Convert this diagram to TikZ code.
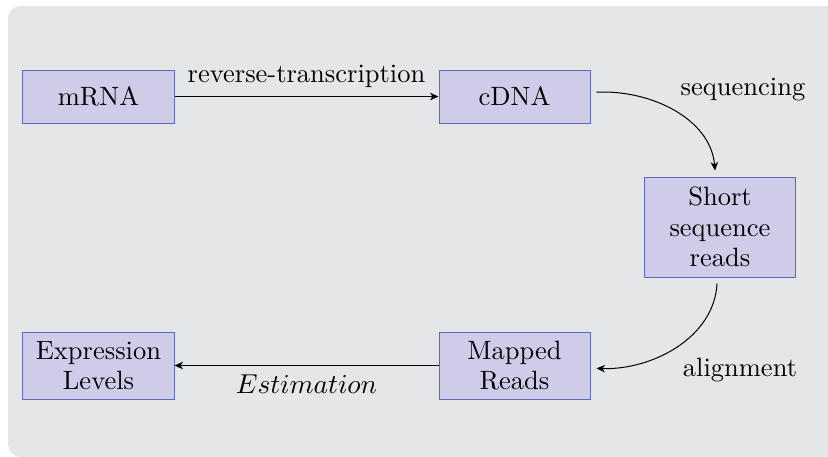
\documentclass[tikz,border=0pt]{standalone}
\usetikzlibrary{arrows.meta}
\definecolor{panelbg}{RGB}{229,230,232}
\definecolor{boxfill}{RGB}{207,204,234}
\definecolor{boxline}{RGB}{92,108,184}
\tikzset{
  box/.style={draw=boxline, fill=boxfill, minimum width=60.4pt, inner sep=0pt, align=center},
  flow/.style={-{Stealth[length=3.4pt,width=3pt,inset=1pt]}},
  gap/.style={shorten <=2.4pt, shorten >=2.4pt},
  steplabel/.style={anchor=base, inner sep=0pt}
}
\begin{document}
\begin{tikzpicture}[x=0.4pt, y=-0.4pt, font=\fontsize{10.6}{12.2}\selectfont]
  \useasboundingbox (0,0) rectangle (828,456);
  % panel
  \begin{scope}
    \clip (0,0) rectangle (828,456);
    \fill[panelbg, rounded corners=5pt] (8,6) rectangle (880,457);
  \end{scope}

  % stages
  \node[box, minimum height=21.2pt] (mrna)   at (98.5,96.5)  {mRNA};
  \node[box, minimum height=21.2pt] (cdna)   at (514.5,96.5) {cDNA};
  \node[box, minimum height=40pt]   (short)  at (720,227)    {Short\\sequence\\reads};
  \node[box, minimum height=26.8pt] (mapped) at (514.5,365.5) {Mapped\\Reads};
  \node[box, minimum height=26.8pt] (expr)   at (98.5,365.5)  {Expression\\Levels};

  % transitions
  \draw[flow] (mrna) -- node[above] {reverse-transcription} (cdna);
  \draw[flow, gap] (cdna) to[out=3, in=95] (short);
  \draw[flow, gap] (short) to[out=-93, in=-2] (mapped);
  \draw[flow] (mapped) -- node[below] {$Estimation$} (expr);

  \node[steplabel] (seqlbl) at (743,95)  {sequencing};
  \node[steplabel] (alnlbl) at (740,376) {alignment};
\end{tikzpicture}
\end{document}
